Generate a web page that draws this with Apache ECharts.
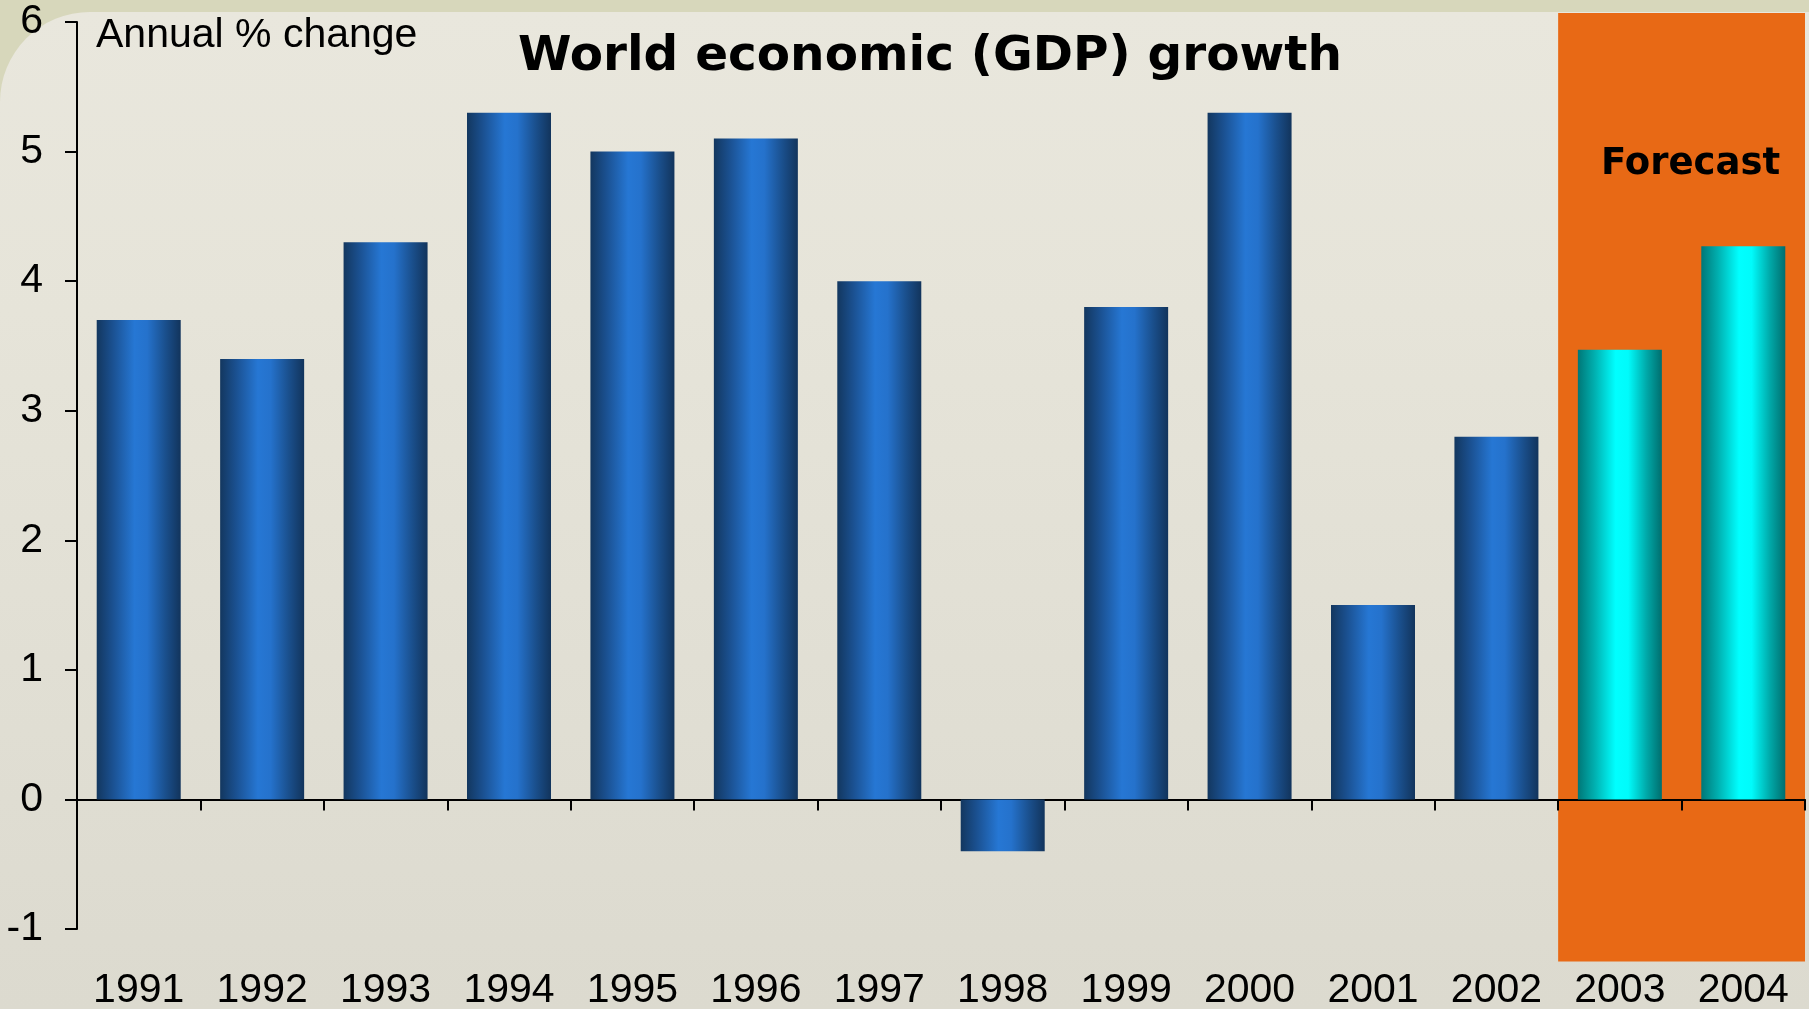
<!DOCTYPE html>
<html>
<head>
<meta charset="utf-8">
<script src="https://cdn.jsdelivr.net/npm/echarts@6/dist/echarts.min.js"></script>
<style>
html,body{margin:0;padding:0;background:#e4e2d7;}
#chart{width:1809px;height:1009px;}
</style>
</head>
<body>
<div id="chart"></div>
<script>
// ---- data ----
const years = ['1991','1992','1993','1994','1995','1996','1997','1998','1999','2000','2001','2002','2003','2004'];
const growth = [3.7, 3.4, 4.3, 5.3, 5.0, 5.1, 4.0, -0.4, 3.8, 5.3, 1.5, 2.8, 3.47, 4.27];
const forecastYears = ['2003','2004'];
const yTicks = [-1, 0, 1, 2, 3, 4, 5, 6];
const titleText = 'World economic (GDP) growth';
const unitText = 'Annual % change';
const forecastText = 'Forecast';
// forecast shading extent (value units) and label level
const forecastTop = 6.07;
const forecastBottom = -1.25;
const forecastLabelLevel = 4.9;

// ---- styles ----
const blueGrad = new echarts.graphic.LinearGradient(0, 0, 1, 0, [
  {offset: 0, color: '#13375f'},
  {offset: 0.18, color: '#1a4f8e'},
  {offset: 0.45, color: '#2677d4'},
  {offset: 0.6, color: '#2572cc'},
  {offset: 0.82, color: '#1a4f8c'},
  {offset: 1, color: '#12345c'}
]);
const cyanGrad = new echarts.graphic.LinearGradient(0, 0, 1, 0, [
  {offset: 0, color: '#007777'},
  {offset: 0.2, color: '#00b0b0'},
  {offset: 0.45, color: '#00ffff'},
  {offset: 0.6, color: '#00fbfb'},
  {offset: 0.82, color: '#00a8a8'},
  {offset: 1, color: '#006e6e'}
]);

const barData = growth.map((v, i) => ({
  value: v,
  itemStyle: {color: forecastYears.includes(years[i]) ? cyanGrad : blueGrad}
}));

const chart = echarts.init(document.getElementById('chart'), null, {renderer: 'canvas'});

const option = {
  animation: false,
  backgroundColor: '#d7d7bb',
  graphic: [{
    type: 'rect',
    z: -100,
    silent: true,
    shape: {x: 0, y: 12, width: 1809, height: 997, r: [90, 0, 0, 0]},
    style: {
      fill: new echarts.graphic.LinearGradient(0, 0, 0, 1, [
        {offset: 0, color: '#e9e7dd'},
        {offset: 0.3, color: '#e6e4d9'},
        {offset: 1, color: '#dcdacf'}
      ])
    }
  }],
  title: [{
    text: titleText,
    left: 925,
    textAlign: 'center',
    top: 28,
    textStyle: {fontFamily: 'DejaVu Sans', fontWeight: 'bold', fontSize: 48.5, color: '#000'}
  }, {
    text: unitText,
    left: 91,
    top: 10,
    textStyle: {fontFamily: 'Liberation Sans', fontWeight: 'normal', fontSize: 41, color: '#000'}
  }],
  grid: {left: 77, right: 4, top: 22, bottom: 80, containLabel: false, outerBoundsMode: 'none'},
  xAxis: [{
    type: 'category',
    data: years,
    position: 'bottom',
    axisLine: {show: true, onZero: true, lineStyle: {color: '#000', width: 2}},
    axisTick: {show: true, alignWithLabel: false, length: 11, lineStyle: {color: '#000', width: 2}},
    axisLabel: {show: false},
    splitLine: {show: false}
  }, {
    type: 'category',
    data: years,
    position: 'bottom',
    axisLine: {show: false, onZero: false},
    axisTick: {show: false},
    axisLabel: {show: true, margin: 41, fontFamily: 'Liberation Sans', fontSize: 41, color: '#000'},
    splitLine: {show: false}
  }],
  yAxis: {
    type: 'value',
    min: yTicks[0],
    max: yTicks[yTicks.length - 1],
    interval: 1,
    axisLine: {show: true, lineStyle: {color: '#000', width: 2}},
    axisTick: {show: true, length: 12, lineStyle: {color: '#000', width: 2}},
    axisLabel: {margin: 34, fontFamily: 'Liberation Sans', fontSize: 41, color: '#000'},
    splitLine: {show: false}
  },
  series: [{
    type: 'custom',
    xAxisIndex: 0,
    z: -1,
    silent: true,
    clip: false,
    data: [[forecastYears[0], forecastYears[forecastYears.length - 1]]],
    renderItem: function (params, api) {
      const i0 = years.indexOf(forecastYears[0]);
      const i1 = years.indexOf(forecastYears[forecastYears.length - 1]);
      const band = api.size([1, 0])[0];
      const pTop = api.coord([i0, forecastTop]);
      const pBot = api.coord([i1, forecastBottom]);
      const x0 = pTop[0] - band / 2;
      const x1 = pBot[0] + band / 2;
      const labelP = api.coord([i0, forecastLabelLevel]);
      return {
        type: 'group',
        children: [{
          type: 'rect',
          shape: {x: x0, y: pTop[1], width: x1 - x0, height: pBot[1] - pTop[1]},
          style: {fill: '#e86915'}
        }, {
          type: 'text',
          z2: 10,
          style: {
            x: (x0 + x1) / 2 + 9,
            y: labelP[1],
            text: forecastText,
            align: 'center',
            verticalAlign: 'middle',
            fill: '#000',
            font: 'bold 37px "DejaVu Sans"'
          }
        }]
      };
    }
  }, {
    type: 'bar',
    xAxisIndex: 0,
    data: barData,
    barWidth: 84,
    z: 3
  }]
};
chart.setOption(option);
</script>
</body>
</html>
